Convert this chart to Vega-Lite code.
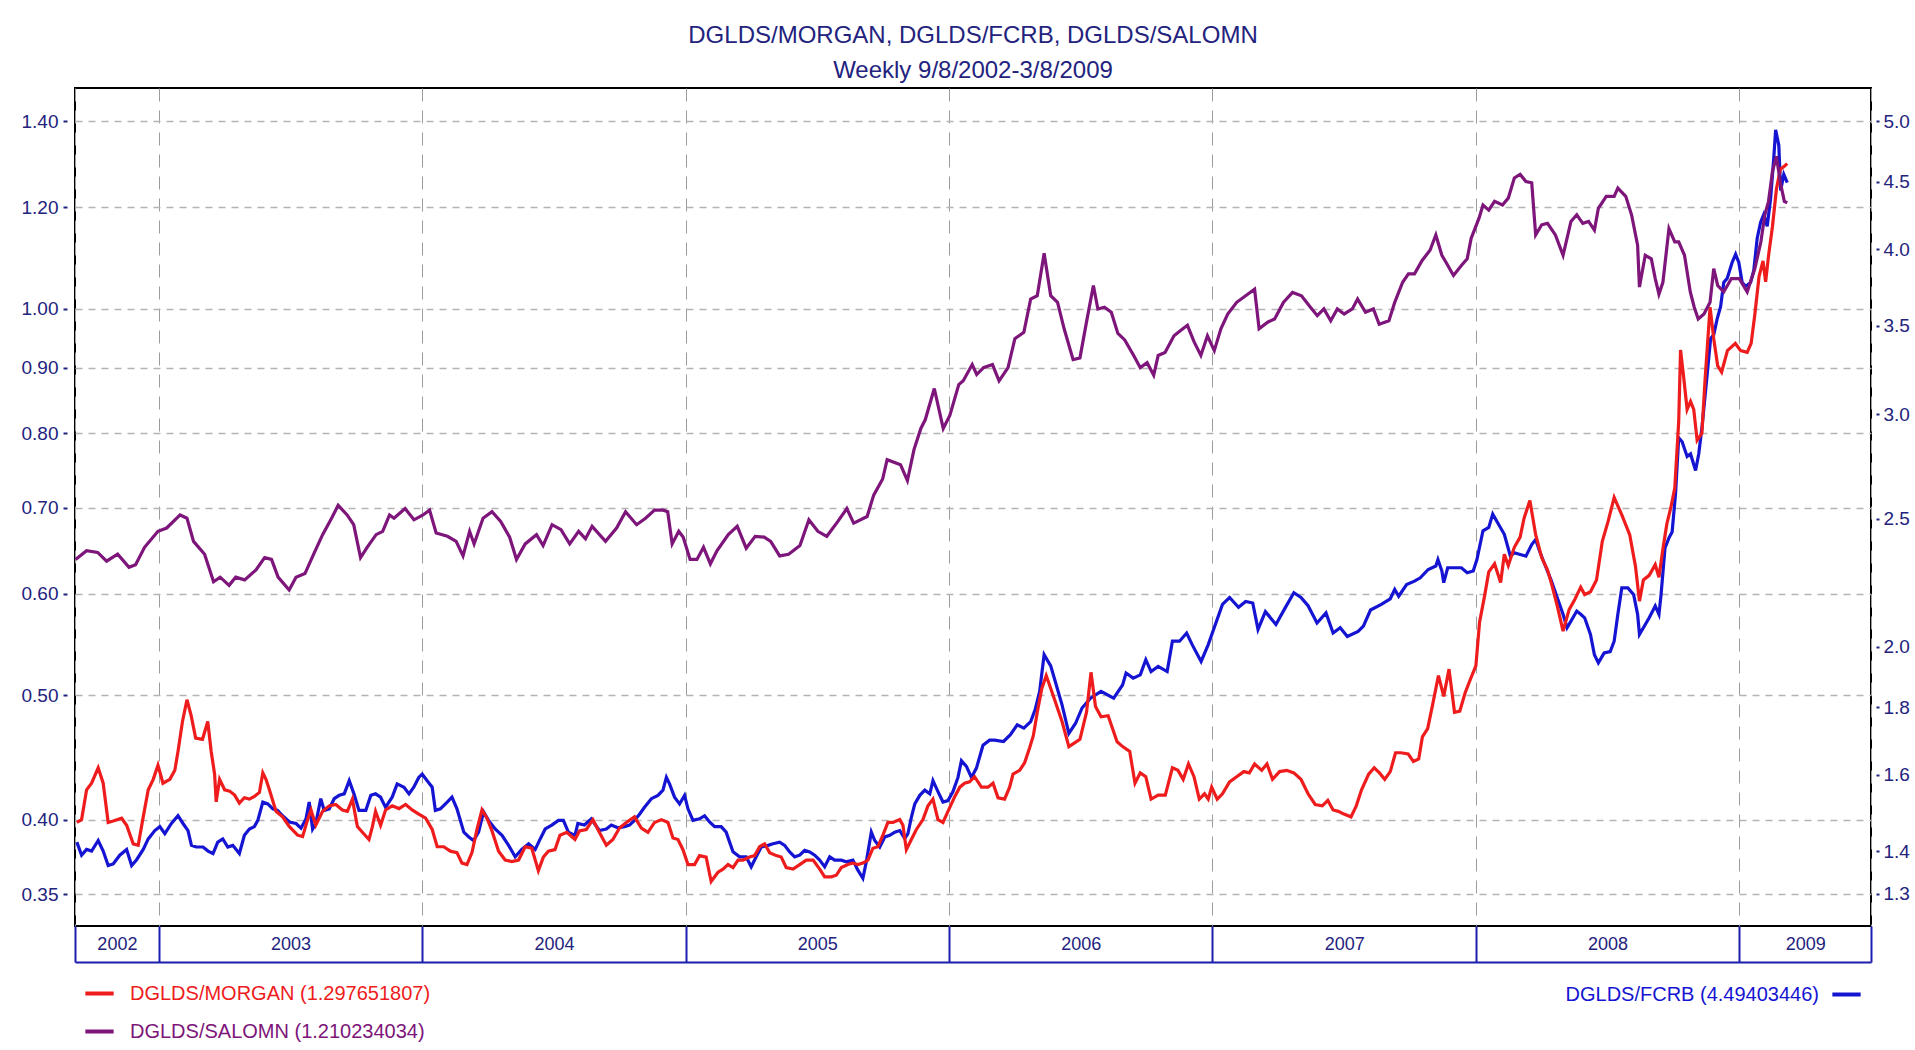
{
"$schema": "https://vega.github.io/schema/vega-lite/v6.json",
"width": 1796,
"height": 838,
"autosize": {"type": "none"},
"padding": {"left": 75, "top": 88, "right": 44, "bottom": 124},
"background": "#ffffff",
"title": {
  "text": "DGLDS/MORGAN, DGLDS/FCRB, DGLDS/SALOMN",
  "subtitle": "Weekly 9/8/2002-3/8/2009",
  "anchor": "middle", "frame": "group",
  "font": "Liberation Sans", "fontSize": 24, "fontWeight": "normal", "color": "#23237e",
  "subtitleFont": "Liberation Sans", "subtitleFontSize": 24, "subtitleColor": "#23237e",
  "subtitlePadding": 11, "offset": 5
},
"config": {
  "view": {"stroke": "#000000", "strokeWidth": 2},
  "font": "Liberation Sans"
},
"data": {"values": [
{"s":"DGLDS/MORGAN","t":2002.689,"v":0.398},{"s":"DGLDS/MORGAN","t":2002.707,"v":0.400},{"s":"DGLDS/MORGAN","t":2002.726,"v":0.422},{"s":"DGLDS/MORGAN","t":2002.745,"v":0.427},{"s":"DGLDS/MORGAN","t":2002.770,"v":0.439},{"s":"DGLDS/MORGAN","t":2002.789,"v":0.427},{"s":"DGLDS/MORGAN","t":2002.808,"v":0.398},{"s":"DGLDS/MORGAN","t":2002.827,"v":0.399},{"s":"DGLDS/MORGAN","t":2002.859,"v":0.401},{"s":"DGLDS/MORGAN","t":2002.878,"v":0.396},{"s":"DGLDS/MORGAN","t":2002.903,"v":0.383},{"s":"DGLDS/MORGAN","t":2002.922,"v":0.382},{"s":"DGLDS/MORGAN","t":2002.941,"v":0.402},{"s":"DGLDS/MORGAN","t":2002.960,"v":0.422},{"s":"DGLDS/MORGAN","t":2002.979,"v":0.430},{"s":"DGLDS/MORGAN","t":2002.997,"v":0.441},{"s":"DGLDS/MORGAN","t":2003.016,"v":0.427},{"s":"DGLDS/MORGAN","t":2003.042,"v":0.430},{"s":"DGLDS/MORGAN","t":2003.061,"v":0.437},{"s":"DGLDS/MORGAN","t":2003.073,"v":0.452},{"s":"DGLDS/MORGAN","t":2003.090,"v":0.477},{"s":"DGLDS/MORGAN","t":2003.107,"v":0.496},{"s":"DGLDS/MORGAN","t":2003.123,"v":0.482},{"s":"DGLDS/MORGAN","t":2003.140,"v":0.463},{"s":"DGLDS/MORGAN","t":2003.166,"v":0.462},{"s":"DGLDS/MORGAN","t":2003.186,"v":0.477},{"s":"DGLDS/MORGAN","t":2003.199,"v":0.452},{"s":"DGLDS/MORGAN","t":2003.212,"v":0.434},{"s":"DGLDS/MORGAN","t":2003.218,"v":0.413},{"s":"DGLDS/MORGAN","t":2003.231,"v":0.430},{"s":"DGLDS/MORGAN","t":2003.250,"v":0.422},{"s":"DGLDS/MORGAN","t":2003.269,"v":0.421},{"s":"DGLDS/MORGAN","t":2003.288,"v":0.418},{"s":"DGLDS/MORGAN","t":2003.306,"v":0.412},{"s":"DGLDS/MORGAN","t":2003.325,"v":0.416},{"s":"DGLDS/MORGAN","t":2003.344,"v":0.415},{"s":"DGLDS/MORGAN","t":2003.363,"v":0.417},{"s":"DGLDS/MORGAN","t":2003.382,"v":0.420},{"s":"DGLDS/MORGAN","t":2003.395,"v":0.435},{"s":"DGLDS/MORGAN","t":2003.407,"v":0.430},{"s":"DGLDS/MORGAN","t":2003.420,"v":0.422},{"s":"DGLDS/MORGAN","t":2003.445,"v":0.406},{"s":"DGLDS/MORGAN","t":2003.470,"v":0.402},{"s":"DGLDS/MORGAN","t":2003.496,"v":0.395},{"s":"DGLDS/MORGAN","t":2003.527,"v":0.389},{"s":"DGLDS/MORGAN","t":2003.546,"v":0.388},{"s":"DGLDS/MORGAN","t":2003.565,"v":0.400},{"s":"DGLDS/MORGAN","t":2003.578,"v":0.407},{"s":"DGLDS/MORGAN","t":2003.596,"v":0.396},{"s":"DGLDS/MORGAN","t":2003.622,"v":0.406},{"s":"DGLDS/MORGAN","t":2003.647,"v":0.410},{"s":"DGLDS/MORGAN","t":2003.672,"v":0.411},{"s":"DGLDS/MORGAN","t":2003.697,"v":0.407},{"s":"DGLDS/MORGAN","t":2003.716,"v":0.406},{"s":"DGLDS/MORGAN","t":2003.735,"v":0.415},{"s":"DGLDS/MORGAN","t":2003.754,"v":0.395},{"s":"DGLDS/MORGAN","t":2003.773,"v":0.391},{"s":"DGLDS/MORGAN","t":2003.798,"v":0.386},{"s":"DGLDS/MORGAN","t":2003.811,"v":0.395},{"s":"DGLDS/MORGAN","t":2003.823,"v":0.406},{"s":"DGLDS/MORGAN","t":2003.842,"v":0.396},{"s":"DGLDS/MORGAN","t":2003.861,"v":0.407},{"s":"DGLDS/MORGAN","t":2003.886,"v":0.410},{"s":"DGLDS/MORGAN","t":2003.912,"v":0.408},{"s":"DGLDS/MORGAN","t":2003.937,"v":0.411},{"s":"DGLDS/MORGAN","t":2003.962,"v":0.407},{"s":"DGLDS/MORGAN","t":2003.987,"v":0.404},{"s":"DGLDS/MORGAN","t":2004.013,"v":0.401},{"s":"DGLDS/MORGAN","t":2004.038,"v":0.393},{"s":"DGLDS/MORGAN","t":2004.057,"v":0.381},{"s":"DGLDS/MORGAN","t":2004.082,"v":0.381},{"s":"DGLDS/MORGAN","t":2004.107,"v":0.378},{"s":"DGLDS/MORGAN","t":2004.132,"v":0.377},{"s":"DGLDS/MORGAN","t":2004.151,"v":0.370},{"s":"DGLDS/MORGAN","t":2004.170,"v":0.369},{"s":"DGLDS/MORGAN","t":2004.189,"v":0.377},{"s":"DGLDS/MORGAN","t":2004.208,"v":0.393},{"s":"DGLDS/MORGAN","t":2004.227,"v":0.407},{"s":"DGLDS/MORGAN","t":2004.246,"v":0.401},{"s":"DGLDS/MORGAN","t":2004.265,"v":0.392},{"s":"DGLDS/MORGAN","t":2004.290,"v":0.378},{"s":"DGLDS/MORGAN","t":2004.315,"v":0.372},{"s":"DGLDS/MORGAN","t":2004.340,"v":0.371},{"s":"DGLDS/MORGAN","t":2004.366,"v":0.372},{"s":"DGLDS/MORGAN","t":2004.391,"v":0.381},{"s":"DGLDS/MORGAN","t":2004.416,"v":0.380},{"s":"DGLDS/MORGAN","t":2004.441,"v":0.365},{"s":"DGLDS/MORGAN","t":2004.460,"v":0.374},{"s":"DGLDS/MORGAN","t":2004.479,"v":0.378},{"s":"DGLDS/MORGAN","t":2004.504,"v":0.379},{"s":"DGLDS/MORGAN","t":2004.523,"v":0.389},{"s":"DGLDS/MORGAN","t":2004.549,"v":0.391},{"s":"DGLDS/MORGAN","t":2004.580,"v":0.386},{"s":"DGLDS/MORGAN","t":2004.597,"v":0.392},{"s":"DGLDS/MORGAN","t":2004.623,"v":0.393},{"s":"DGLDS/MORGAN","t":2004.648,"v":0.400},{"s":"DGLDS/MORGAN","t":2004.667,"v":0.393},{"s":"DGLDS/MORGAN","t":2004.699,"v":0.382},{"s":"DGLDS/MORGAN","t":2004.724,"v":0.386},{"s":"DGLDS/MORGAN","t":2004.749,"v":0.394},{"s":"DGLDS/MORGAN","t":2004.775,"v":0.398},{"s":"DGLDS/MORGAN","t":2004.806,"v":0.402},{"s":"DGLDS/MORGAN","t":2004.832,"v":0.394},{"s":"DGLDS/MORGAN","t":2004.857,"v":0.391},{"s":"DGLDS/MORGAN","t":2004.882,"v":0.398},{"s":"DGLDS/MORGAN","t":2004.908,"v":0.400},{"s":"DGLDS/MORGAN","t":2004.933,"v":0.398},{"s":"DGLDS/MORGAN","t":2004.952,"v":0.387},{"s":"DGLDS/MORGAN","t":2004.971,"v":0.386},{"s":"DGLDS/MORGAN","t":2004.990,"v":0.379},{"s":"DGLDS/MORGAN","t":2005.009,"v":0.369},{"s":"DGLDS/MORGAN","t":2005.034,"v":0.369},{"s":"DGLDS/MORGAN","t":2005.053,"v":0.375},{"s":"DGLDS/MORGAN","t":2005.078,"v":0.374},{"s":"DGLDS/MORGAN","t":2005.097,"v":0.358},{"s":"DGLDS/MORGAN","t":2005.123,"v":0.364},{"s":"DGLDS/MORGAN","t":2005.142,"v":0.366},{"s":"DGLDS/MORGAN","t":2005.161,"v":0.369},{"s":"DGLDS/MORGAN","t":2005.180,"v":0.367},{"s":"DGLDS/MORGAN","t":2005.199,"v":0.372},{"s":"DGLDS/MORGAN","t":2005.218,"v":0.372},{"s":"DGLDS/MORGAN","t":2005.243,"v":0.374},{"s":"DGLDS/MORGAN","t":2005.262,"v":0.375},{"s":"DGLDS/MORGAN","t":2005.281,"v":0.381},{"s":"DGLDS/MORGAN","t":2005.300,"v":0.383},{"s":"DGLDS/MORGAN","t":2005.319,"v":0.377},{"s":"DGLDS/MORGAN","t":2005.344,"v":0.375},{"s":"DGLDS/MORGAN","t":2005.363,"v":0.374},{"s":"DGLDS/MORGAN","t":2005.382,"v":0.367},{"s":"DGLDS/MORGAN","t":2005.408,"v":0.366},{"s":"DGLDS/MORGAN","t":2005.433,"v":0.369},{"s":"DGLDS/MORGAN","t":2005.458,"v":0.372},{"s":"DGLDS/MORGAN","t":2005.484,"v":0.372},{"s":"DGLDS/MORGAN","t":2005.509,"v":0.366},{"s":"DGLDS/MORGAN","t":2005.528,"v":0.361},{"s":"DGLDS/MORGAN","t":2005.553,"v":0.361},{"s":"DGLDS/MORGAN","t":2005.572,"v":0.362},{"s":"DGLDS/MORGAN","t":2005.591,"v":0.367},{"s":"DGLDS/MORGAN","t":2005.616,"v":0.369},{"s":"DGLDS/MORGAN","t":2005.635,"v":0.370},{"s":"DGLDS/MORGAN","t":2005.654,"v":0.369},{"s":"DGLDS/MORGAN","t":2005.673,"v":0.370},{"s":"DGLDS/MORGAN","t":2005.692,"v":0.372},{"s":"DGLDS/MORGAN","t":2005.711,"v":0.380},{"s":"DGLDS/MORGAN","t":2005.730,"v":0.381},{"s":"DGLDS/MORGAN","t":2005.749,"v":0.389},{"s":"DGLDS/MORGAN","t":2005.768,"v":0.398},{"s":"DGLDS/MORGAN","t":2005.787,"v":0.398},{"s":"DGLDS/MORGAN","t":2005.813,"v":0.400},{"s":"DGLDS/MORGAN","t":2005.825,"v":0.396},{"s":"DGLDS/MORGAN","t":2005.838,"v":0.379},{"s":"DGLDS/MORGAN","t":2005.857,"v":0.386},{"s":"DGLDS/MORGAN","t":2005.876,"v":0.393},{"s":"DGLDS/MORGAN","t":2005.901,"v":0.400},{"s":"DGLDS/MORGAN","t":2005.920,"v":0.410},{"s":"DGLDS/MORGAN","t":2005.939,"v":0.415},{"s":"DGLDS/MORGAN","t":2005.958,"v":0.400},{"s":"DGLDS/MORGAN","t":2005.977,"v":0.398},{"s":"DGLDS/MORGAN","t":2005.996,"v":0.406},{"s":"DGLDS/MORGAN","t":2006.022,"v":0.417},{"s":"DGLDS/MORGAN","t":2006.041,"v":0.424},{"s":"DGLDS/MORGAN","t":2006.059,"v":0.427},{"s":"DGLDS/MORGAN","t":2006.078,"v":0.428},{"s":"DGLDS/MORGAN","t":2006.097,"v":0.432},{"s":"DGLDS/MORGAN","t":2006.123,"v":0.424},{"s":"DGLDS/MORGAN","t":2006.148,"v":0.424},{"s":"DGLDS/MORGAN","t":2006.167,"v":0.427},{"s":"DGLDS/MORGAN","t":2006.186,"v":0.416},{"s":"DGLDS/MORGAN","t":2006.211,"v":0.415},{"s":"DGLDS/MORGAN","t":2006.230,"v":0.424},{"s":"DGLDS/MORGAN","t":2006.243,"v":0.434},{"s":"DGLDS/MORGAN","t":2006.268,"v":0.437},{"s":"DGLDS/MORGAN","t":2006.287,"v":0.443},{"s":"DGLDS/MORGAN","t":2006.306,"v":0.455},{"s":"DGLDS/MORGAN","t":2006.320,"v":0.465},{"s":"DGLDS/MORGAN","t":2006.335,"v":0.485},{"s":"DGLDS/MORGAN","t":2006.352,"v":0.506},{"s":"DGLDS/MORGAN","t":2006.369,"v":0.518},{"s":"DGLDS/MORGAN","t":2006.395,"v":0.500},{"s":"DGLDS/MORGAN","t":2006.429,"v":0.477},{"s":"DGLDS/MORGAN","t":2006.455,"v":0.456},{"s":"DGLDS/MORGAN","t":2006.497,"v":0.462},{"s":"DGLDS/MORGAN","t":2006.522,"v":0.485},{"s":"DGLDS/MORGAN","t":2006.539,"v":0.521},{"s":"DGLDS/MORGAN","t":2006.556,"v":0.490},{"s":"DGLDS/MORGAN","t":2006.577,"v":0.481},{"s":"DGLDS/MORGAN","t":2006.604,"v":0.482},{"s":"DGLDS/MORGAN","t":2006.638,"v":0.460},{"s":"DGLDS/MORGAN","t":2006.659,"v":0.456},{"s":"DGLDS/MORGAN","t":2006.686,"v":0.452},{"s":"DGLDS/MORGAN","t":2006.706,"v":0.427},{"s":"DGLDS/MORGAN","t":2006.726,"v":0.435},{"s":"DGLDS/MORGAN","t":2006.747,"v":0.432},{"s":"DGLDS/MORGAN","t":2006.767,"v":0.415},{"s":"DGLDS/MORGAN","t":2006.794,"v":0.418},{"s":"DGLDS/MORGAN","t":2006.821,"v":0.418},{"s":"DGLDS/MORGAN","t":2006.848,"v":0.439},{"s":"DGLDS/MORGAN","t":2006.869,"v":0.437},{"s":"DGLDS/MORGAN","t":2006.889,"v":0.430},{"s":"DGLDS/MORGAN","t":2006.909,"v":0.442},{"s":"DGLDS/MORGAN","t":2006.930,"v":0.432},{"s":"DGLDS/MORGAN","t":2006.950,"v":0.415},{"s":"DGLDS/MORGAN","t":2006.970,"v":0.419},{"s":"DGLDS/MORGAN","t":2006.984,"v":0.415},{"s":"DGLDS/MORGAN","t":2006.997,"v":0.424},{"s":"DGLDS/MORGAN","t":2007.018,"v":0.415},{"s":"DGLDS/MORGAN","t":2007.038,"v":0.419},{"s":"DGLDS/MORGAN","t":2007.065,"v":0.428},{"s":"DGLDS/MORGAN","t":2007.092,"v":0.432},{"s":"DGLDS/MORGAN","t":2007.119,"v":0.436},{"s":"DGLDS/MORGAN","t":2007.140,"v":0.435},{"s":"DGLDS/MORGAN","t":2007.160,"v":0.442},{"s":"DGLDS/MORGAN","t":2007.187,"v":0.437},{"s":"DGLDS/MORGAN","t":2007.207,"v":0.442},{"s":"DGLDS/MORGAN","t":2007.228,"v":0.430},{"s":"DGLDS/MORGAN","t":2007.255,"v":0.436},{"s":"DGLDS/MORGAN","t":2007.282,"v":0.437},{"s":"DGLDS/MORGAN","t":2007.309,"v":0.435},{"s":"DGLDS/MORGAN","t":2007.336,"v":0.430},{"s":"DGLDS/MORGAN","t":2007.363,"v":0.419},{"s":"DGLDS/MORGAN","t":2007.390,"v":0.411},{"s":"DGLDS/MORGAN","t":2007.417,"v":0.410},{"s":"DGLDS/MORGAN","t":2007.438,"v":0.414},{"s":"DGLDS/MORGAN","t":2007.458,"v":0.407},{"s":"DGLDS/MORGAN","t":2007.478,"v":0.406},{"s":"DGLDS/MORGAN","t":2007.499,"v":0.404},{"s":"DGLDS/MORGAN","t":2007.526,"v":0.402},{"s":"DGLDS/MORGAN","t":2007.546,"v":0.410},{"s":"DGLDS/MORGAN","t":2007.566,"v":0.422},{"s":"DGLDS/MORGAN","t":2007.593,"v":0.434},{"s":"DGLDS/MORGAN","t":2007.614,"v":0.439},{"s":"DGLDS/MORGAN","t":2007.634,"v":0.435},{"s":"DGLDS/MORGAN","t":2007.654,"v":0.430},{"s":"DGLDS/MORGAN","t":2007.675,"v":0.436},{"s":"DGLDS/MORGAN","t":2007.695,"v":0.451},{"s":"DGLDS/MORGAN","t":2007.715,"v":0.451},{"s":"DGLDS/MORGAN","t":2007.743,"v":0.450},{"s":"DGLDS/MORGAN","t":2007.763,"v":0.444},{"s":"DGLDS/MORGAN","t":2007.783,"v":0.446},{"s":"DGLDS/MORGAN","t":2007.797,"v":0.464},{"s":"DGLDS/MORGAN","t":2007.817,"v":0.471},{"s":"DGLDS/MORGAN","t":2007.837,"v":0.493},{"s":"DGLDS/MORGAN","t":2007.858,"v":0.518},{"s":"DGLDS/MORGAN","t":2007.878,"v":0.499},{"s":"DGLDS/MORGAN","t":2007.898,"v":0.524},{"s":"DGLDS/MORGAN","t":2007.919,"v":0.485},{"s":"DGLDS/MORGAN","t":2007.939,"v":0.486},{"s":"DGLDS/MORGAN","t":2007.959,"v":0.502},{"s":"DGLDS/MORGAN","t":2007.980,"v":0.515},{"s":"DGLDS/MORGAN","t":2008.000,"v":0.527},{"s":"DGLDS/MORGAN","t":2008.014,"v":0.570},{"s":"DGLDS/MORGAN","t":2008.034,"v":0.599},{"s":"DGLDS/MORGAN","t":2008.049,"v":0.624},{"s":"DGLDS/MORGAN","t":2008.071,"v":0.633},{"s":"DGLDS/MORGAN","t":2008.094,"v":0.612},{"s":"DGLDS/MORGAN","t":2008.108,"v":0.644},{"s":"DGLDS/MORGAN","t":2008.123,"v":0.631},{"s":"DGLDS/MORGAN","t":2008.146,"v":0.652},{"s":"DGLDS/MORGAN","t":2008.168,"v":0.664},{"s":"DGLDS/MORGAN","t":2008.183,"v":0.687},{"s":"DGLDS/MORGAN","t":2008.205,"v":0.709},{"s":"DGLDS/MORGAN","t":2008.227,"v":0.667},{"s":"DGLDS/MORGAN","t":2008.250,"v":0.640},{"s":"DGLDS/MORGAN","t":2008.272,"v":0.626},{"s":"DGLDS/MORGAN","t":2008.287,"v":0.611},{"s":"DGLDS/MORGAN","t":2008.309,"v":0.587},{"s":"DGLDS/MORGAN","t":2008.331,"v":0.561},{"s":"DGLDS/MORGAN","t":2008.354,"v":0.583},{"s":"DGLDS/MORGAN","t":2008.376,"v":0.594},{"s":"DGLDS/MORGAN","t":2008.398,"v":0.607},{"s":"DGLDS/MORGAN","t":2008.413,"v":0.599},{"s":"DGLDS/MORGAN","t":2008.435,"v":0.602},{"s":"DGLDS/MORGAN","t":2008.458,"v":0.615},{"s":"DGLDS/MORGAN","t":2008.480,"v":0.659},{"s":"DGLDS/MORGAN","t":2008.502,"v":0.683},{"s":"DGLDS/MORGAN","t":2008.525,"v":0.713},{"s":"DGLDS/MORGAN","t":2008.554,"v":0.691},{"s":"DGLDS/MORGAN","t":2008.584,"v":0.667},{"s":"DGLDS/MORGAN","t":2008.606,"v":0.630},{"s":"DGLDS/MORGAN","t":2008.621,"v":0.592},{"s":"DGLDS/MORGAN","t":2008.636,"v":0.615},{"s":"DGLDS/MORGAN","t":2008.658,"v":0.620},{"s":"DGLDS/MORGAN","t":2008.681,"v":0.632},{"s":"DGLDS/MORGAN","t":2008.695,"v":0.618},{"s":"DGLDS/MORGAN","t":2008.710,"v":0.650},{"s":"DGLDS/MORGAN","t":2008.725,"v":0.680},{"s":"DGLDS/MORGAN","t":2008.740,"v":0.700},{"s":"DGLDS/MORGAN","t":2008.755,"v":0.725},{"s":"DGLDS/MORGAN","t":2008.770,"v":0.817},{"s":"DGLDS/MORGAN","t":2008.777,"v":0.929},{"s":"DGLDS/MORGAN","t":2008.789,"v":0.884},{"s":"DGLDS/MORGAN","t":2008.802,"v":0.835},{"s":"DGLDS/MORGAN","t":2008.815,"v":0.847},{"s":"DGLDS/MORGAN","t":2008.827,"v":0.835},{"s":"DGLDS/MORGAN","t":2008.840,"v":0.790},{"s":"DGLDS/MORGAN","t":2008.858,"v":0.800},{"s":"DGLDS/MORGAN","t":2008.870,"v":0.880},{"s":"DGLDS/MORGAN","t":2008.889,"v":1.003},{"s":"DGLDS/MORGAN","t":2008.903,"v":0.948},{"s":"DGLDS/MORGAN","t":2008.918,"v":0.903},{"s":"DGLDS/MORGAN","t":2008.933,"v":0.893},{"s":"DGLDS/MORGAN","t":2008.955,"v":0.928},{"s":"DGLDS/MORGAN","t":2008.985,"v":0.940},{"s":"DGLDS/MORGAN","t":2009.005,"v":0.928},{"s":"DGLDS/MORGAN","t":2009.030,"v":0.925},{"s":"DGLDS/MORGAN","t":2009.045,"v":0.940},{"s":"DGLDS/MORGAN","t":2009.059,"v":0.990},{"s":"DGLDS/MORGAN","t":2009.075,"v":1.060},{"s":"DGLDS/MORGAN","t":2009.090,"v":1.090},{"s":"DGLDS/MORGAN","t":2009.100,"v":1.050},{"s":"DGLDS/MORGAN","t":2009.111,"v":1.100},{"s":"DGLDS/MORGAN","t":2009.126,"v":1.160},{"s":"DGLDS/MORGAN","t":2009.141,"v":1.240},{"s":"DGLDS/MORGAN","t":2009.156,"v":1.285},{"s":"DGLDS/MORGAN","t":2009.171,"v":1.292},{"s":"DGLDS/MORGAN","t":2009.182,"v":1.298},
{"s":"DGLDS/SALOMN","t":2002.684,"v":0.638},{"s":"DGLDS/SALOMN","t":2002.726,"v":0.648},{"s":"DGLDS/SALOMN","t":2002.768,"v":0.646},{"s":"DGLDS/SALOMN","t":2002.802,"v":0.636},{"s":"DGLDS/SALOMN","t":2002.844,"v":0.644},{"s":"DGLDS/SALOMN","t":2002.887,"v":0.629},{"s":"DGLDS/SALOMN","t":2002.912,"v":0.632},{"s":"DGLDS/SALOMN","t":2002.946,"v":0.652},{"s":"DGLDS/SALOMN","t":2002.997,"v":0.671},{"s":"DGLDS/SALOMN","t":2003.030,"v":0.675},{"s":"DGLDS/SALOMN","t":2003.081,"v":0.691},{"s":"DGLDS/SALOMN","t":2003.107,"v":0.687},{"s":"DGLDS/SALOMN","t":2003.132,"v":0.659},{"s":"DGLDS/SALOMN","t":2003.174,"v":0.644},{"s":"DGLDS/SALOMN","t":2003.208,"v":0.613},{"s":"DGLDS/SALOMN","t":2003.233,"v":0.618},{"s":"DGLDS/SALOMN","t":2003.267,"v":0.609},{"s":"DGLDS/SALOMN","t":2003.292,"v":0.618},{"s":"DGLDS/SALOMN","t":2003.326,"v":0.615},{"s":"DGLDS/SALOMN","t":2003.369,"v":0.626},{"s":"DGLDS/SALOMN","t":2003.402,"v":0.640},{"s":"DGLDS/SALOMN","t":2003.428,"v":0.638},{"s":"DGLDS/SALOMN","t":2003.453,"v":0.618},{"s":"DGLDS/SALOMN","t":2003.495,"v":0.604},{"s":"DGLDS/SALOMN","t":2003.521,"v":0.618},{"s":"DGLDS/SALOMN","t":2003.555,"v":0.622},{"s":"DGLDS/SALOMN","t":2003.588,"v":0.644},{"s":"DGLDS/SALOMN","t":2003.622,"v":0.667},{"s":"DGLDS/SALOMN","t":2003.656,"v":0.687},{"s":"DGLDS/SALOMN","t":2003.681,"v":0.703},{"s":"DGLDS/SALOMN","t":2003.715,"v":0.691},{"s":"DGLDS/SALOMN","t":2003.740,"v":0.679},{"s":"DGLDS/SALOMN","t":2003.766,"v":0.640},{"s":"DGLDS/SALOMN","t":2003.791,"v":0.652},{"s":"DGLDS/SALOMN","t":2003.825,"v":0.667},{"s":"DGLDS/SALOMN","t":2003.850,"v":0.671},{"s":"DGLDS/SALOMN","t":2003.876,"v":0.691},{"s":"DGLDS/SALOMN","t":2003.893,"v":0.687},{"s":"DGLDS/SALOMN","t":2003.935,"v":0.699},{"s":"DGLDS/SALOMN","t":2003.969,"v":0.685},{"s":"DGLDS/SALOMN","t":2004.003,"v":0.691},{"s":"DGLDS/SALOMN","t":2004.028,"v":0.697},{"s":"DGLDS/SALOMN","t":2004.053,"v":0.669},{"s":"DGLDS/SALOMN","t":2004.096,"v":0.665},{"s":"DGLDS/SALOMN","t":2004.129,"v":0.659},{"s":"DGLDS/SALOMN","t":2004.155,"v":0.642},{"s":"DGLDS/SALOMN","t":2004.180,"v":0.671},{"s":"DGLDS/SALOMN","t":2004.197,"v":0.656},{"s":"DGLDS/SALOMN","t":2004.231,"v":0.687},{"s":"DGLDS/SALOMN","t":2004.265,"v":0.695},{"s":"DGLDS/SALOMN","t":2004.298,"v":0.683},{"s":"DGLDS/SALOMN","t":2004.332,"v":0.664},{"s":"DGLDS/SALOMN","t":2004.358,"v":0.638},{"s":"DGLDS/SALOMN","t":2004.391,"v":0.656},{"s":"DGLDS/SALOMN","t":2004.434,"v":0.667},{"s":"DGLDS/SALOMN","t":2004.459,"v":0.654},{"s":"DGLDS/SALOMN","t":2004.493,"v":0.679},{"s":"DGLDS/SALOMN","t":2004.527,"v":0.673},{"s":"DGLDS/SALOMN","t":2004.560,"v":0.656},{"s":"DGLDS/SALOMN","t":2004.594,"v":0.671},{"s":"DGLDS/SALOMN","t":2004.620,"v":0.662},{"s":"DGLDS/SALOMN","t":2004.645,"v":0.677},{"s":"DGLDS/SALOMN","t":2004.696,"v":0.659},{"s":"DGLDS/SALOMN","t":2004.738,"v":0.675},{"s":"DGLDS/SALOMN","t":2004.772,"v":0.695},{"s":"DGLDS/SALOMN","t":2004.814,"v":0.679},{"s":"DGLDS/SALOMN","t":2004.848,"v":0.687},{"s":"DGLDS/SALOMN","t":2004.882,"v":0.697},{"s":"DGLDS/SALOMN","t":2004.915,"v":0.697},{"s":"DGLDS/SALOMN","t":2004.932,"v":0.695},{"s":"DGLDS/SALOMN","t":2004.949,"v":0.656},{"s":"DGLDS/SALOMN","t":2004.974,"v":0.671},{"s":"DGLDS/SALOMN","t":2004.991,"v":0.664},{"s":"DGLDS/SALOMN","t":2005.017,"v":0.638},{"s":"DGLDS/SALOMN","t":2005.043,"v":0.638},{"s":"DGLDS/SALOMN","t":2005.068,"v":0.652},{"s":"DGLDS/SALOMN","t":2005.094,"v":0.633},{"s":"DGLDS/SALOMN","t":2005.119,"v":0.648},{"s":"DGLDS/SALOMN","t":2005.162,"v":0.667},{"s":"DGLDS/SALOMN","t":2005.196,"v":0.677},{"s":"DGLDS/SALOMN","t":2005.230,"v":0.651},{"s":"DGLDS/SALOMN","t":2005.264,"v":0.665},{"s":"DGLDS/SALOMN","t":2005.298,"v":0.664},{"s":"DGLDS/SALOMN","t":2005.323,"v":0.659},{"s":"DGLDS/SALOMN","t":2005.357,"v":0.642},{"s":"DGLDS/SALOMN","t":2005.391,"v":0.644},{"s":"DGLDS/SALOMN","t":2005.434,"v":0.654},{"s":"DGLDS/SALOMN","t":2005.468,"v":0.685},{"s":"DGLDS/SALOMN","t":2005.502,"v":0.671},{"s":"DGLDS/SALOMN","t":2005.536,"v":0.665},{"s":"DGLDS/SALOMN","t":2005.578,"v":0.683},{"s":"DGLDS/SALOMN","t":2005.612,"v":0.699},{"s":"DGLDS/SALOMN","t":2005.638,"v":0.681},{"s":"DGLDS/SALOMN","t":2005.689,"v":0.689},{"s":"DGLDS/SALOMN","t":2005.714,"v":0.716},{"s":"DGLDS/SALOMN","t":2005.748,"v":0.737},{"s":"DGLDS/SALOMN","t":2005.765,"v":0.763},{"s":"DGLDS/SALOMN","t":2005.816,"v":0.756},{"s":"DGLDS/SALOMN","t":2005.842,"v":0.735},{"s":"DGLDS/SALOMN","t":2005.867,"v":0.777},{"s":"DGLDS/SALOMN","t":2005.893,"v":0.807},{"s":"DGLDS/SALOMN","t":2005.910,"v":0.820},{"s":"DGLDS/SALOMN","t":2005.944,"v":0.867},{"s":"DGLDS/SALOMN","t":2005.978,"v":0.807},{"s":"DGLDS/SALOMN","t":2006.003,"v":0.826},{"s":"DGLDS/SALOMN","t":2006.037,"v":0.873},{"s":"DGLDS/SALOMN","t":2006.054,"v":0.879},{"s":"DGLDS/SALOMN","t":2006.088,"v":0.905},{"s":"DGLDS/SALOMN","t":2006.105,"v":0.889},{"s":"DGLDS/SALOMN","t":2006.131,"v":0.900},{"s":"DGLDS/SALOMN","t":2006.165,"v":0.905},{"s":"DGLDS/SALOMN","t":2006.190,"v":0.879},{"s":"DGLDS/SALOMN","t":2006.224,"v":0.900},{"s":"DGLDS/SALOMN","t":2006.250,"v":0.948},{"s":"DGLDS/SALOMN","t":2006.284,"v":0.959},{"s":"DGLDS/SALOMN","t":2006.310,"v":1.018},{"s":"DGLDS/SALOMN","t":2006.335,"v":1.024},{"s":"DGLDS/SALOMN","t":2006.361,"v":1.105},{"s":"DGLDS/SALOMN","t":2006.386,"v":1.024},{"s":"DGLDS/SALOMN","t":2006.412,"v":1.012},{"s":"DGLDS/SALOMN","t":2006.437,"v":0.965},{"s":"DGLDS/SALOMN","t":2006.471,"v":0.913},{"s":"DGLDS/SALOMN","t":2006.497,"v":0.916},{"s":"DGLDS/SALOMN","t":2006.522,"v":0.977},{"s":"DGLDS/SALOMN","t":2006.548,"v":1.043},{"s":"DGLDS/SALOMN","t":2006.565,"v":1.000},{"s":"DGLDS/SALOMN","t":2006.590,"v":1.003},{"s":"DGLDS/SALOMN","t":2006.616,"v":0.994},{"s":"DGLDS/SALOMN","t":2006.641,"v":0.957},{"s":"DGLDS/SALOMN","t":2006.667,"v":0.946},{"s":"DGLDS/SALOMN","t":2006.701,"v":0.920},{"s":"DGLDS/SALOMN","t":2006.726,"v":0.900},{"s":"DGLDS/SALOMN","t":2006.752,"v":0.908},{"s":"DGLDS/SALOMN","t":2006.777,"v":0.888},{"s":"DGLDS/SALOMN","t":2006.794,"v":0.920},{"s":"DGLDS/SALOMN","t":2006.820,"v":0.925},{"s":"DGLDS/SALOMN","t":2006.854,"v":0.953},{"s":"DGLDS/SALOMN","t":2006.879,"v":0.962},{"s":"DGLDS/SALOMN","t":2006.905,"v":0.971},{"s":"DGLDS/SALOMN","t":2006.930,"v":0.943},{"s":"DGLDS/SALOMN","t":2006.956,"v":0.920},{"s":"DGLDS/SALOMN","t":2006.981,"v":0.953},{"s":"DGLDS/SALOMN","t":2007.007,"v":0.928},{"s":"DGLDS/SALOMN","t":2007.032,"v":0.965},{"s":"DGLDS/SALOMN","t":2007.058,"v":0.991},{"s":"DGLDS/SALOMN","t":2007.092,"v":1.012},{"s":"DGLDS/SALOMN","t":2007.126,"v":1.024},{"s":"DGLDS/SALOMN","t":2007.160,"v":1.036},{"s":"DGLDS/SALOMN","t":2007.177,"v":0.965},{"s":"DGLDS/SALOMN","t":2007.211,"v":0.977},{"s":"DGLDS/SALOMN","t":2007.236,"v":0.982},{"s":"DGLDS/SALOMN","t":2007.270,"v":1.012},{"s":"DGLDS/SALOMN","t":2007.304,"v":1.030},{"s":"DGLDS/SALOMN","t":2007.338,"v":1.024},{"s":"DGLDS/SALOMN","t":2007.372,"v":1.003},{"s":"DGLDS/SALOMN","t":2007.398,"v":0.988},{"s":"DGLDS/SALOMN","t":2007.423,"v":1.000},{"s":"DGLDS/SALOMN","t":2007.449,"v":0.979},{"s":"DGLDS/SALOMN","t":2007.474,"v":1.000},{"s":"DGLDS/SALOMN","t":2007.500,"v":0.991},{"s":"DGLDS/SALOMN","t":2007.531,"v":1.000},{"s":"DGLDS/SALOMN","t":2007.551,"v":1.018},{"s":"DGLDS/SALOMN","t":2007.581,"v":0.994},{"s":"DGLDS/SALOMN","t":2007.611,"v":1.000},{"s":"DGLDS/SALOMN","t":2007.633,"v":0.973},{"s":"DGLDS/SALOMN","t":2007.670,"v":0.979},{"s":"DGLDS/SALOMN","t":2007.692,"v":1.012},{"s":"DGLDS/SALOMN","t":2007.722,"v":1.049},{"s":"DGLDS/SALOMN","t":2007.744,"v":1.065},{"s":"DGLDS/SALOMN","t":2007.767,"v":1.065},{"s":"DGLDS/SALOMN","t":2007.796,"v":1.091},{"s":"DGLDS/SALOMN","t":2007.826,"v":1.111},{"s":"DGLDS/SALOMN","t":2007.848,"v":1.142},{"s":"DGLDS/SALOMN","t":2007.871,"v":1.101},{"s":"DGLDS/SALOMN","t":2007.886,"v":1.088},{"s":"DGLDS/SALOMN","t":2007.915,"v":1.062},{"s":"DGLDS/SALOMN","t":2007.945,"v":1.081},{"s":"DGLDS/SALOMN","t":2007.967,"v":1.094},{"s":"DGLDS/SALOMN","t":2007.982,"v":1.135},{"s":"DGLDS/SALOMN","t":2008.012,"v":1.177},{"s":"DGLDS/SALOMN","t":2008.027,"v":1.205},{"s":"DGLDS/SALOMN","t":2008.049,"v":1.194},{"s":"DGLDS/SALOMN","t":2008.071,"v":1.213},{"s":"DGLDS/SALOMN","t":2008.101,"v":1.205},{"s":"DGLDS/SALOMN","t":2008.123,"v":1.220},{"s":"DGLDS/SALOMN","t":2008.146,"v":1.265},{"s":"DGLDS/SALOMN","t":2008.168,"v":1.273},{"s":"DGLDS/SALOMN","t":2008.190,"v":1.257},{"s":"DGLDS/SALOMN","t":2008.212,"v":1.254},{"s":"DGLDS/SALOMN","t":2008.227,"v":1.142},{"s":"DGLDS/SALOMN","t":2008.250,"v":1.163},{"s":"DGLDS/SALOMN","t":2008.272,"v":1.166},{"s":"DGLDS/SALOMN","t":2008.302,"v":1.142},{"s":"DGLDS/SALOMN","t":2008.331,"v":1.101},{"s":"DGLDS/SALOMN","t":2008.361,"v":1.170},{"s":"DGLDS/SALOMN","t":2008.383,"v":1.184},{"s":"DGLDS/SALOMN","t":2008.406,"v":1.166},{"s":"DGLDS/SALOMN","t":2008.428,"v":1.170},{"s":"DGLDS/SALOMN","t":2008.450,"v":1.152},{"s":"DGLDS/SALOMN","t":2008.465,"v":1.198},{"s":"DGLDS/SALOMN","t":2008.495,"v":1.224},{"s":"DGLDS/SALOMN","t":2008.525,"v":1.224},{"s":"DGLDS/SALOMN","t":2008.539,"v":1.242},{"s":"DGLDS/SALOMN","t":2008.569,"v":1.224},{"s":"DGLDS/SALOMN","t":2008.591,"v":1.184},{"s":"DGLDS/SALOMN","t":2008.614,"v":1.121},{"s":"DGLDS/SALOMN","t":2008.621,"v":1.040},{"s":"DGLDS/SALOMN","t":2008.643,"v":1.101},{"s":"DGLDS/SALOMN","t":2008.666,"v":1.094},{"s":"DGLDS/SALOMN","t":2008.681,"v":1.056},{"s":"DGLDS/SALOMN","t":2008.695,"v":1.027},{"s":"DGLDS/SALOMN","t":2008.710,"v":1.049},{"s":"DGLDS/SALOMN","t":2008.733,"v":1.155},{"s":"DGLDS/SALOMN","t":2008.755,"v":1.128},{"s":"DGLDS/SALOMN","t":2008.770,"v":1.128},{"s":"DGLDS/SALOMN","t":2008.792,"v":1.101},{"s":"DGLDS/SALOMN","t":2008.814,"v":1.031},{"s":"DGLDS/SALOMN","t":2008.829,"v":1.003},{"s":"DGLDS/SALOMN","t":2008.844,"v":0.982},{"s":"DGLDS/SALOMN","t":2008.866,"v":0.991},{"s":"DGLDS/SALOMN","t":2008.889,"v":1.012},{"s":"DGLDS/SALOMN","t":2008.903,"v":1.075},{"s":"DGLDS/SALOMN","t":2008.918,"v":1.043},{"s":"DGLDS/SALOMN","t":2008.941,"v":1.031},{"s":"DGLDS/SALOMN","t":2008.970,"v":1.056},{"s":"DGLDS/SALOMN","t":2009.000,"v":1.056},{"s":"DGLDS/SALOMN","t":2009.030,"v":1.031},{"s":"DGLDS/SALOMN","t":2009.059,"v":1.075},{"s":"DGLDS/SALOMN","t":2009.082,"v":1.128},{"s":"DGLDS/SALOMN","t":2009.097,"v":1.184},{"s":"DGLDS/SALOMN","t":2009.111,"v":1.213},{"s":"DGLDS/SALOMN","t":2009.126,"v":1.280},{"s":"DGLDS/SALOMN","t":2009.141,"v":1.315},{"s":"DGLDS/SALOMN","t":2009.156,"v":1.254},{"s":"DGLDS/SALOMN","t":2009.171,"v":1.213},{"s":"DGLDS/SALOMN","t":2009.182,"v":1.210},
{"s":"DGLDS/FCRB","t":2002.689,"v":1.423},{"s":"DGLDS/FCRB","t":2002.707,"v":1.391},{"s":"DGLDS/FCRB","t":2002.726,"v":1.405},{"s":"DGLDS/FCRB","t":2002.745,"v":1.401},{"s":"DGLDS/FCRB","t":2002.770,"v":1.427},{"s":"DGLDS/FCRB","t":2002.789,"v":1.401},{"s":"DGLDS/FCRB","t":2002.808,"v":1.366},{"s":"DGLDS/FCRB","t":2002.827,"v":1.370},{"s":"DGLDS/FCRB","t":2002.852,"v":1.391},{"s":"DGLDS/FCRB","t":2002.878,"v":1.405},{"s":"DGLDS/FCRB","t":2002.897,"v":1.366},{"s":"DGLDS/FCRB","t":2002.916,"v":1.380},{"s":"DGLDS/FCRB","t":2002.941,"v":1.405},{"s":"DGLDS/FCRB","t":2002.960,"v":1.431},{"s":"DGLDS/FCRB","t":2002.985,"v":1.452},{"s":"DGLDS/FCRB","t":2003.004,"v":1.462},{"s":"DGLDS/FCRB","t":2003.023,"v":1.444},{"s":"DGLDS/FCRB","t":2003.048,"v":1.470},{"s":"DGLDS/FCRB","t":2003.073,"v":1.490},{"s":"DGLDS/FCRB","t":2003.092,"v":1.470},{"s":"DGLDS/FCRB","t":2003.111,"v":1.452},{"s":"DGLDS/FCRB","t":2003.124,"v":1.415},{"s":"DGLDS/FCRB","t":2003.142,"v":1.411},{"s":"DGLDS/FCRB","t":2003.168,"v":1.411},{"s":"DGLDS/FCRB","t":2003.187,"v":1.401},{"s":"DGLDS/FCRB","t":2003.206,"v":1.395},{"s":"DGLDS/FCRB","t":2003.224,"v":1.423},{"s":"DGLDS/FCRB","t":2003.243,"v":1.431},{"s":"DGLDS/FCRB","t":2003.262,"v":1.411},{"s":"DGLDS/FCRB","t":2003.281,"v":1.415},{"s":"DGLDS/FCRB","t":2003.306,"v":1.395},{"s":"DGLDS/FCRB","t":2003.325,"v":1.440},{"s":"DGLDS/FCRB","t":2003.344,"v":1.456},{"s":"DGLDS/FCRB","t":2003.363,"v":1.462},{"s":"DGLDS/FCRB","t":2003.376,"v":1.478},{"s":"DGLDS/FCRB","t":2003.395,"v":1.526},{"s":"DGLDS/FCRB","t":2003.414,"v":1.521},{"s":"DGLDS/FCRB","t":2003.433,"v":1.508},{"s":"DGLDS/FCRB","t":2003.451,"v":1.504},{"s":"DGLDS/FCRB","t":2003.470,"v":1.490},{"s":"DGLDS/FCRB","t":2003.496,"v":1.474},{"s":"DGLDS/FCRB","t":2003.521,"v":1.470},{"s":"DGLDS/FCRB","t":2003.540,"v":1.458},{"s":"DGLDS/FCRB","t":2003.559,"v":1.482},{"s":"DGLDS/FCRB","t":2003.571,"v":1.526},{"s":"DGLDS/FCRB","t":2003.584,"v":1.456},{"s":"DGLDS/FCRB","t":2003.596,"v":1.470},{"s":"DGLDS/FCRB","t":2003.615,"v":1.535},{"s":"DGLDS/FCRB","t":2003.628,"v":1.504},{"s":"DGLDS/FCRB","t":2003.647,"v":1.508},{"s":"DGLDS/FCRB","t":2003.666,"v":1.535},{"s":"DGLDS/FCRB","t":2003.685,"v":1.544},{"s":"DGLDS/FCRB","t":2003.704,"v":1.548},{"s":"DGLDS/FCRB","t":2003.723,"v":1.584},{"s":"DGLDS/FCRB","t":2003.741,"v":1.548},{"s":"DGLDS/FCRB","t":2003.760,"v":1.504},{"s":"DGLDS/FCRB","t":2003.786,"v":1.504},{"s":"DGLDS/FCRB","t":2003.805,"v":1.544},{"s":"DGLDS/FCRB","t":2003.823,"v":1.548},{"s":"DGLDS/FCRB","t":2003.842,"v":1.539},{"s":"DGLDS/FCRB","t":2003.861,"v":1.512},{"s":"DGLDS/FCRB","t":2003.886,"v":1.539},{"s":"DGLDS/FCRB","t":2003.905,"v":1.575},{"s":"DGLDS/FCRB","t":2003.931,"v":1.566},{"s":"DGLDS/FCRB","t":2003.950,"v":1.548},{"s":"DGLDS/FCRB","t":2003.968,"v":1.566},{"s":"DGLDS/FCRB","t":2003.987,"v":1.593},{"s":"DGLDS/FCRB","t":2004.000,"v":1.602},{"s":"DGLDS/FCRB","t":2004.019,"v":1.584},{"s":"DGLDS/FCRB","t":2004.038,"v":1.566},{"s":"DGLDS/FCRB","t":2004.050,"v":1.504},{"s":"DGLDS/FCRB","t":2004.069,"v":1.508},{"s":"DGLDS/FCRB","t":2004.095,"v":1.526},{"s":"DGLDS/FCRB","t":2004.113,"v":1.539},{"s":"DGLDS/FCRB","t":2004.132,"v":1.508},{"s":"DGLDS/FCRB","t":2004.158,"v":1.448},{"s":"DGLDS/FCRB","t":2004.177,"v":1.436},{"s":"DGLDS/FCRB","t":2004.195,"v":1.427},{"s":"DGLDS/FCRB","t":2004.214,"v":1.448},{"s":"DGLDS/FCRB","t":2004.233,"v":1.500},{"s":"DGLDS/FCRB","t":2004.252,"v":1.478},{"s":"DGLDS/FCRB","t":2004.277,"v":1.456},{"s":"DGLDS/FCRB","t":2004.303,"v":1.440},{"s":"DGLDS/FCRB","t":2004.328,"v":1.415},{"s":"DGLDS/FCRB","t":2004.353,"v":1.387},{"s":"DGLDS/FCRB","t":2004.378,"v":1.405},{"s":"DGLDS/FCRB","t":2004.404,"v":1.419},{"s":"DGLDS/FCRB","t":2004.429,"v":1.405},{"s":"DGLDS/FCRB","t":2004.448,"v":1.431},{"s":"DGLDS/FCRB","t":2004.467,"v":1.456},{"s":"DGLDS/FCRB","t":2004.492,"v":1.466},{"s":"DGLDS/FCRB","t":2004.517,"v":1.478},{"s":"DGLDS/FCRB","t":2004.536,"v":1.478},{"s":"DGLDS/FCRB","t":2004.555,"v":1.448},{"s":"DGLDS/FCRB","t":2004.580,"v":1.440},{"s":"DGLDS/FCRB","t":2004.591,"v":1.470},{"s":"DGLDS/FCRB","t":2004.616,"v":1.466},{"s":"DGLDS/FCRB","t":2004.642,"v":1.482},{"s":"DGLDS/FCRB","t":2004.654,"v":1.470},{"s":"DGLDS/FCRB","t":2004.673,"v":1.452},{"s":"DGLDS/FCRB","t":2004.699,"v":1.456},{"s":"DGLDS/FCRB","t":2004.718,"v":1.466},{"s":"DGLDS/FCRB","t":2004.743,"v":1.459},{"s":"DGLDS/FCRB","t":2004.768,"v":1.462},{"s":"DGLDS/FCRB","t":2004.787,"v":1.466},{"s":"DGLDS/FCRB","t":2004.806,"v":1.478},{"s":"DGLDS/FCRB","t":2004.825,"v":1.494},{"s":"DGLDS/FCRB","t":2004.844,"v":1.512},{"s":"DGLDS/FCRB","t":2004.870,"v":1.535},{"s":"DGLDS/FCRB","t":2004.895,"v":1.544},{"s":"DGLDS/FCRB","t":2004.914,"v":1.558},{"s":"DGLDS/FCRB","t":2004.927,"v":1.593},{"s":"DGLDS/FCRB","t":2004.939,"v":1.575},{"s":"DGLDS/FCRB","t":2004.958,"v":1.539},{"s":"DGLDS/FCRB","t":2004.977,"v":1.521},{"s":"DGLDS/FCRB","t":2004.996,"v":1.544},{"s":"DGLDS/FCRB","t":2005.009,"v":1.508},{"s":"DGLDS/FCRB","t":2005.028,"v":1.478},{"s":"DGLDS/FCRB","t":2005.053,"v":1.482},{"s":"DGLDS/FCRB","t":2005.072,"v":1.490},{"s":"DGLDS/FCRB","t":2005.091,"v":1.474},{"s":"DGLDS/FCRB","t":2005.110,"v":1.462},{"s":"DGLDS/FCRB","t":2005.135,"v":1.462},{"s":"DGLDS/FCRB","t":2005.154,"v":1.448},{"s":"DGLDS/FCRB","t":2005.167,"v":1.423},{"s":"DGLDS/FCRB","t":2005.180,"v":1.399},{"s":"DGLDS/FCRB","t":2005.205,"v":1.387},{"s":"DGLDS/FCRB","t":2005.230,"v":1.387},{"s":"DGLDS/FCRB","t":2005.249,"v":1.363},{"s":"DGLDS/FCRB","t":2005.268,"v":1.387},{"s":"DGLDS/FCRB","t":2005.287,"v":1.411},{"s":"DGLDS/FCRB","t":2005.313,"v":1.415},{"s":"DGLDS/FCRB","t":2005.332,"v":1.419},{"s":"DGLDS/FCRB","t":2005.357,"v":1.423},{"s":"DGLDS/FCRB","t":2005.376,"v":1.415},{"s":"DGLDS/FCRB","t":2005.395,"v":1.399},{"s":"DGLDS/FCRB","t":2005.414,"v":1.387},{"s":"DGLDS/FCRB","t":2005.433,"v":1.391},{"s":"DGLDS/FCRB","t":2005.452,"v":1.403},{"s":"DGLDS/FCRB","t":2005.471,"v":1.399},{"s":"DGLDS/FCRB","t":2005.490,"v":1.391},{"s":"DGLDS/FCRB","t":2005.509,"v":1.379},{"s":"DGLDS/FCRB","t":2005.528,"v":1.363},{"s":"DGLDS/FCRB","t":2005.547,"v":1.387},{"s":"DGLDS/FCRB","t":2005.566,"v":1.379},{"s":"DGLDS/FCRB","t":2005.591,"v":1.379},{"s":"DGLDS/FCRB","t":2005.610,"v":1.375},{"s":"DGLDS/FCRB","t":2005.635,"v":1.379},{"s":"DGLDS/FCRB","t":2005.654,"v":1.355},{"s":"DGLDS/FCRB","t":2005.673,"v":1.336},{"s":"DGLDS/FCRB","t":2005.686,"v":1.375},{"s":"DGLDS/FCRB","t":2005.705,"v":1.448},{"s":"DGLDS/FCRB","t":2005.718,"v":1.427},{"s":"DGLDS/FCRB","t":2005.737,"v":1.411},{"s":"DGLDS/FCRB","t":2005.756,"v":1.436},{"s":"DGLDS/FCRB","t":2005.775,"v":1.440},{"s":"DGLDS/FCRB","t":2005.794,"v":1.448},{"s":"DGLDS/FCRB","t":2005.813,"v":1.452},{"s":"DGLDS/FCRB","t":2005.832,"v":1.432},{"s":"DGLDS/FCRB","t":2005.844,"v":1.444},{"s":"DGLDS/FCRB","t":2005.857,"v":1.486},{"s":"DGLDS/FCRB","t":2005.870,"v":1.521},{"s":"DGLDS/FCRB","t":2005.889,"v":1.544},{"s":"DGLDS/FCRB","t":2005.908,"v":1.558},{"s":"DGLDS/FCRB","t":2005.927,"v":1.548},{"s":"DGLDS/FCRB","t":2005.939,"v":1.584},{"s":"DGLDS/FCRB","t":2005.958,"v":1.554},{"s":"DGLDS/FCRB","t":2005.977,"v":1.526},{"s":"DGLDS/FCRB","t":2005.996,"v":1.530},{"s":"DGLDS/FCRB","t":2006.015,"v":1.554},{"s":"DGLDS/FCRB","t":2006.034,"v":1.593},{"s":"DGLDS/FCRB","t":2006.047,"v":1.640},{"s":"DGLDS/FCRB","t":2006.066,"v":1.624},{"s":"DGLDS/FCRB","t":2006.085,"v":1.593},{"s":"DGLDS/FCRB","t":2006.104,"v":1.619},{"s":"DGLDS/FCRB","t":2006.129,"v":1.685},{"s":"DGLDS/FCRB","t":2006.154,"v":1.700},{"s":"DGLDS/FCRB","t":2006.173,"v":1.700},{"s":"DGLDS/FCRB","t":2006.207,"v":1.696},{"s":"DGLDS/FCRB","t":2006.233,"v":1.716},{"s":"DGLDS/FCRB","t":2006.259,"v":1.746},{"s":"DGLDS/FCRB","t":2006.284,"v":1.736},{"s":"DGLDS/FCRB","t":2006.310,"v":1.756},{"s":"DGLDS/FCRB","t":2006.327,"v":1.793},{"s":"DGLDS/FCRB","t":2006.344,"v":1.851},{"s":"DGLDS/FCRB","t":2006.361,"v":1.973},{"s":"DGLDS/FCRB","t":2006.386,"v":1.935},{"s":"DGLDS/FCRB","t":2006.403,"v":1.884},{"s":"DGLDS/FCRB","t":2006.429,"v":1.808},{"s":"DGLDS/FCRB","t":2006.455,"v":1.720},{"s":"DGLDS/FCRB","t":2006.480,"v":1.750},{"s":"DGLDS/FCRB","t":2006.505,"v":1.798},{"s":"DGLDS/FCRB","t":2006.537,"v":1.829},{"s":"DGLDS/FCRB","t":2006.577,"v":1.851},{"s":"DGLDS/FCRB","t":2006.625,"v":1.829},{"s":"DGLDS/FCRB","t":2006.659,"v":1.872},{"s":"DGLDS/FCRB","t":2006.672,"v":1.911},{"s":"DGLDS/FCRB","t":2006.699,"v":1.894},{"s":"DGLDS/FCRB","t":2006.726,"v":1.905},{"s":"DGLDS/FCRB","t":2006.747,"v":1.956},{"s":"DGLDS/FCRB","t":2006.767,"v":1.916},{"s":"DGLDS/FCRB","t":2006.794,"v":1.933},{"s":"DGLDS/FCRB","t":2006.828,"v":1.916},{"s":"DGLDS/FCRB","t":2006.848,"v":2.020},{"s":"DGLDS/FCRB","t":2006.875,"v":2.020},{"s":"DGLDS/FCRB","t":2006.902,"v":2.049},{"s":"DGLDS/FCRB","t":2006.923,"v":2.008},{"s":"DGLDS/FCRB","t":2006.957,"v":1.950},{"s":"DGLDS/FCRB","t":2006.984,"v":2.008},{"s":"DGLDS/FCRB","t":2007.011,"v":2.080},{"s":"DGLDS/FCRB","t":2007.038,"v":2.154},{"s":"DGLDS/FCRB","t":2007.065,"v":2.180},{"s":"DGLDS/FCRB","t":2007.099,"v":2.143},{"s":"DGLDS/FCRB","t":2007.126,"v":2.165},{"s":"DGLDS/FCRB","t":2007.153,"v":2.159},{"s":"DGLDS/FCRB","t":2007.173,"v":2.062},{"s":"DGLDS/FCRB","t":2007.201,"v":2.127},{"s":"DGLDS/FCRB","t":2007.241,"v":2.080},{"s":"DGLDS/FCRB","t":2007.275,"v":2.139},{"s":"DGLDS/FCRB","t":2007.309,"v":2.198},{"s":"DGLDS/FCRB","t":2007.336,"v":2.180},{"s":"DGLDS/FCRB","t":2007.363,"v":2.149},{"s":"DGLDS/FCRB","t":2007.397,"v":2.085},{"s":"DGLDS/FCRB","t":2007.431,"v":2.122},{"s":"DGLDS/FCRB","t":2007.458,"v":2.049},{"s":"DGLDS/FCRB","t":2007.485,"v":2.068},{"s":"DGLDS/FCRB","t":2007.512,"v":2.037},{"s":"DGLDS/FCRB","t":2007.553,"v":2.055},{"s":"DGLDS/FCRB","t":2007.573,"v":2.074},{"s":"DGLDS/FCRB","t":2007.600,"v":2.133},{"s":"DGLDS/FCRB","t":2007.641,"v":2.154},{"s":"DGLDS/FCRB","t":2007.675,"v":2.175},{"s":"DGLDS/FCRB","t":2007.692,"v":2.211},{"s":"DGLDS/FCRB","t":2007.707,"v":2.185},{"s":"DGLDS/FCRB","t":2007.737,"v":2.230},{"s":"DGLDS/FCRB","t":2007.767,"v":2.243},{"s":"DGLDS/FCRB","t":2007.789,"v":2.256},{"s":"DGLDS/FCRB","t":2007.819,"v":2.289},{"s":"DGLDS/FCRB","t":2007.848,"v":2.303},{"s":"DGLDS/FCRB","t":2007.856,"v":2.329},{"s":"DGLDS/FCRB","t":2007.871,"v":2.283},{"s":"DGLDS/FCRB","t":2007.878,"v":2.237},{"s":"DGLDS/FCRB","t":2007.893,"v":2.296},{"s":"DGLDS/FCRB","t":2007.923,"v":2.296},{"s":"DGLDS/FCRB","t":2007.945,"v":2.296},{"s":"DGLDS/FCRB","t":2007.967,"v":2.276},{"s":"DGLDS/FCRB","t":2007.990,"v":2.283},{"s":"DGLDS/FCRB","t":2008.004,"v":2.329},{"s":"DGLDS/FCRB","t":2008.027,"v":2.449},{"s":"DGLDS/FCRB","t":2008.049,"v":2.463},{"s":"DGLDS/FCRB","t":2008.064,"v":2.521},{"s":"DGLDS/FCRB","t":2008.086,"v":2.477},{"s":"DGLDS/FCRB","t":2008.108,"v":2.434},{"s":"DGLDS/FCRB","t":2008.131,"v":2.343},{"s":"DGLDS/FCRB","t":2008.146,"v":2.357},{"s":"DGLDS/FCRB","t":2008.168,"v":2.350},{"s":"DGLDS/FCRB","t":2008.190,"v":2.343},{"s":"DGLDS/FCRB","t":2008.212,"v":2.391},{"s":"DGLDS/FCRB","t":2008.227,"v":2.412},{"s":"DGLDS/FCRB","t":2008.242,"v":2.363},{"s":"DGLDS/FCRB","t":2008.264,"v":2.303},{"s":"DGLDS/FCRB","t":2008.287,"v":2.243},{"s":"DGLDS/FCRB","t":2008.309,"v":2.179},{"s":"DGLDS/FCRB","t":2008.331,"v":2.117},{"s":"DGLDS/FCRB","t":2008.346,"v":2.068},{"s":"DGLDS/FCRB","t":2008.361,"v":2.092},{"s":"DGLDS/FCRB","t":2008.383,"v":2.129},{"s":"DGLDS/FCRB","t":2008.398,"v":2.117},{"s":"DGLDS/FCRB","t":2008.413,"v":2.104},{"s":"DGLDS/FCRB","t":2008.435,"v":2.044},{"s":"DGLDS/FCRB","t":2008.450,"v":1.973},{"s":"DGLDS/FCRB","t":2008.465,"v":1.945},{"s":"DGLDS/FCRB","t":2008.487,"v":1.979},{"s":"DGLDS/FCRB","t":2008.510,"v":1.984},{"s":"DGLDS/FCRB","t":2008.525,"v":2.020},{"s":"DGLDS/FCRB","t":2008.539,"v":2.117},{"s":"DGLDS/FCRB","t":2008.554,"v":2.217},{"s":"DGLDS/FCRB","t":2008.577,"v":2.217},{"s":"DGLDS/FCRB","t":2008.599,"v":2.191},{"s":"DGLDS/FCRB","t":2008.614,"v":2.117},{"s":"DGLDS/FCRB","t":2008.621,"v":2.044},{"s":"DGLDS/FCRB","t":2008.636,"v":2.068},{"s":"DGLDS/FCRB","t":2008.658,"v":2.104},{"s":"DGLDS/FCRB","t":2008.681,"v":2.148},{"s":"DGLDS/FCRB","t":2008.695,"v":2.117},{"s":"DGLDS/FCRB","t":2008.703,"v":2.191},{"s":"DGLDS/FCRB","t":2008.718,"v":2.377},{"s":"DGLDS/FCRB","t":2008.733,"v":2.419},{"s":"DGLDS/FCRB","t":2008.745,"v":2.444},{"s":"DGLDS/FCRB","t":2008.758,"v":2.613},{"s":"DGLDS/FCRB","t":2008.770,"v":2.880},{"s":"DGLDS/FCRB","t":2008.783,"v":2.860},{"s":"DGLDS/FCRB","t":2008.802,"v":2.788},{"s":"DGLDS/FCRB","t":2008.815,"v":2.800},{"s":"DGLDS/FCRB","t":2008.834,"v":2.720},{"s":"DGLDS/FCRB","t":2008.846,"v":2.800},{"s":"DGLDS/FCRB","t":2008.859,"v":2.941},{"s":"DGLDS/FCRB","t":2008.878,"v":3.215},{"s":"DGLDS/FCRB","t":2008.891,"v":3.423},{"s":"DGLDS/FCRB","t":2008.903,"v":3.447},{"s":"DGLDS/FCRB","t":2008.916,"v":3.544},{"s":"DGLDS/FCRB","t":2008.929,"v":3.619},{"s":"DGLDS/FCRB","t":2008.941,"v":3.776},{"s":"DGLDS/FCRB","t":2008.954,"v":3.803},{"s":"DGLDS/FCRB","t":2008.973,"v":3.911},{"s":"DGLDS/FCRB","t":2008.986,"v":3.966},{"s":"DGLDS/FCRB","t":2008.998,"v":3.911},{"s":"DGLDS/FCRB","t":2009.011,"v":3.776},{"s":"DGLDS/FCRB","t":2009.024,"v":3.750},{"s":"DGLDS/FCRB","t":2009.043,"v":3.776},{"s":"DGLDS/FCRB","t":2009.055,"v":3.856},{"s":"DGLDS/FCRB","t":2009.068,"v":4.079},{"s":"DGLDS/FCRB","t":2009.081,"v":4.194},{"s":"DGLDS/FCRB","t":2009.093,"v":4.252},{"s":"DGLDS/FCRB","t":2009.106,"v":4.165},{"s":"DGLDS/FCRB","t":2009.119,"v":4.373},{"s":"DGLDS/FCRB","t":2009.131,"v":4.694},{"s":"DGLDS/FCRB","t":2009.138,"v":4.928},{"s":"DGLDS/FCRB","t":2009.150,"v":4.796},{"s":"DGLDS/FCRB","t":2009.157,"v":4.434},{"s":"DGLDS/FCRB","t":2009.169,"v":4.559},{"s":"DGLDS/FCRB","t":2009.182,"v":4.494}
]},
"encoding": {
  "x": {"field": "t", "type": "quantitative",
    "scale": {"domain": [2002.682, 2009.5], "nice": false, "zero": false},
    "axis": {
      "title": null,
      "values": [2002.682, 2002.841, 2003, 2003.5, 2004, 2004.5, 2005, 2005.5, 2006, 2006.5, 2007, 2007.5, 2008, 2008.5, 2009, 2009.25, 2009.5],
      "offset": 36,
      "domain": true, "domainColor": "#1c1cae", "domainWidth": 2,
      "ticks": true, "tickSize": -36, "tickWidth": 2, "tickColor": "#1c1cae",
      "tickOpacity": {"condition": {"test": "datum.value % 1 != 0 && datum.value > 2002.7 && datum.value < 2009.4", "value": 0}, "value": 1},
      "grid": true, "gridColor": "#9c9c9c", "gridWidth": 1, "gridDash": [13, 9],
      "gridOpacity": {"condition": {"test": "datum.value % 1 != 0 && datum.value > 2002.7 && datum.value < 2009.4", "value": 0}, "value": 1},
      "labelExpr": "(datum.value % 1 != 0 && datum.value > 2002.7 && datum.value < 2009.4) ? ('' + floor(datum.value)) : ''",
      "labelBaseline": "middle", "labelAlign": "center", "labelPadding": 18,
      "labelFont": "Liberation Sans",
      "labelFontSize": 18, "labelColor": "#23237e",
      "labelOverlap": false, "labelFlush": false, "labelBound": false
    }
  }
},
"layer": [
  {
    "transform": [{"filter": "datum.s == 'DGLDS/FCRB'"}],
    "mark": {"type": "line", "strokeWidth": 3.2},
    "encoding": {
      "y": {"field": "v", "type": "quantitative",
        "scale": {"type": "log", "domain": [1.2294, 5.30], "nice": false, "zero": false},
        "axis": {
          "orient": "right", "title": null,
          "values": [1.3, 1.4, 1.6, 1.8, 2.0, 2.5, 3.0, 3.5, 4.0, 4.5, 5.0],
          "format": ".1f", "grid": false, "domain": false, "offset": 5,
          "ticks": true, "tickSize": 3, "tickWidth": 2, "tickColor": "#23237e",
          "labelPadding": 4,
          "labelFont": "Liberation Sans",
          "labelFontSize": 19, "labelColor": "#23237e", "labelOverlap": false, "labelFlush": false
        }
      },
      "color": {"field": "s", "type": "nominal",
        "scale": {"domain": ["DGLDS/FCRB"], "range": ["#1414d2"]},
        "legend": {
          "orient": "none", "legendX": 1755, "legendY": 890, "direction": "vertical",
          "title": null, "padding": 0,
          "symbolType": "stroke", "symbolSize": 800, "symbolStrokeWidth": 4,
          "labelExpr": "'DGLDS/FCRB (4.49403446)'",
          "labelAlign": "right", "labelOffset": -44,
          "labelFont": "Liberation Sans",
          "labelFontSize": 20, "labelColor": "#1414d2", "labelLimit": 0
        }
      }
    }
  },
  {
    "transform": [{"filter": "datum.s != 'DGLDS/FCRB'"}],
    "mark": {"type": "line", "strokeWidth": 3.2},
    "encoding": {
      "y": {"field": "v", "type": "quantitative",
        "scale": {"type": "log", "domain": [0.3305, 1.4865], "nice": false, "zero": false},
        "axis": {
          "orient": "left", "title": null,
          "values": [0.35, 0.4, 0.5, 0.6, 0.7, 0.8, 0.9, 1.0, 1.2, 1.4],
          "format": ".2f", "domain": false, "offset": 8,
          "ticks": true, "tickSize": 4, "tickWidth": 2, "tickColor": "#23237e",
          "labelPadding": 5,
          "labelFont": "Liberation Sans",
          "labelFontSize": 19, "labelColor": "#23237e", "labelOverlap": false, "labelFlush": false,
          "grid": true, "gridColor": "#b4b4b4", "gridWidth": 1.5, "gridDash": [7, 6]
        }
      },
      "color": {"field": "s", "type": "nominal",
        "scale": {"domain": ["DGLDS/MORGAN", "DGLDS/SALOMN"], "range": ["#ee1c1c", "#7d157a"]},
        "legend": {
          "orient": "none", "legendX": 8, "legendY": 889, "direction": "vertical",
          "title": null, "padding": 0, "rowPadding": 11,
          "symbolType": "stroke", "symbolSize": 800, "symbolStrokeWidth": 4,
          "labelExpr": "datum.label == 'DGLDS/MORGAN' ? 'DGLDS/MORGAN (1.297651807)' : 'DGLDS/SALOMN (1.210234034)'",
          "labelOffset": 14,
          "labelFont": "Liberation Sans",
          "labelFontSize": 20,
          "labelColor": {"expr": "datum.value == 'DGLDS/MORGAN' ? '#ee1c1c' : '#7d157a'"},
          "labelLimit": 0
        }
      }
    }
  }
],
"resolve": {"scale": {"y": "independent", "color": "independent"}}
}
